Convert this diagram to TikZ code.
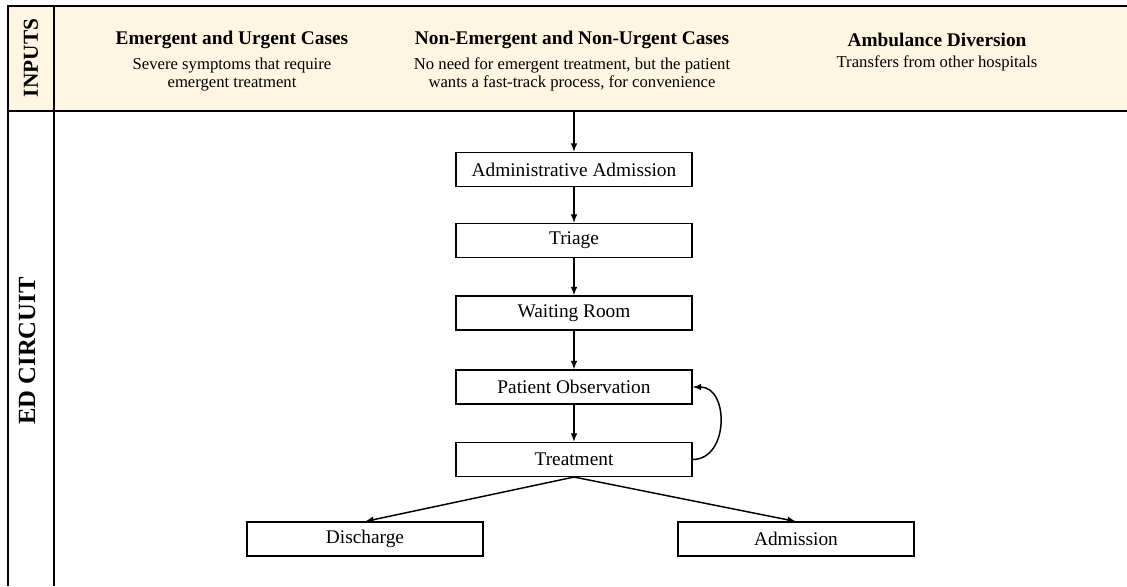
\documentclass[tikz,border=0pt]{standalone}
\usepackage{fontspec}
\setmainfont{Liberation Serif}
\usetikzlibrary{arrows.meta,positioning}
\definecolor{bandcream}{RGB}{255,246,226}
\tikzset{%
  stagebox/.style  = {shape=rectangle, draw, line width=0.8pt,%
                      minimum width=177pt, minimum height=25.5pt,%
                      font=\fontsize{14.5}{16}\selectfont},%
  casetitle/.style = {font=\fontsize{14.5}{17}\selectfont\bfseries},%
  casenote/.style  = {align=center, inner sep=0pt,%
                      font=\fontsize{12.5}{13.5}\selectfont},%
  lanelabel/.style = {rotate=90, font=\bfseries},%
  flow/.style      = {-{Latex[length=6.5pt,width=5pt]}, line width=1.1pt}%
}

\begin{document}
\begin{tikzpicture}[x=0.75pt,y=-0.75pt]
	\useasboundingbox (0,0) rectangle (1127,586);
	% inputs band and lane frame
	\fill[bandcream] (8,6) rectangle (1127,111);
	\draw[line width=1.5pt] (8,586) -- (8,6) -- (1127,6);
	\draw[line width=1.5pt] (8,111) -- (1127,111);
	\draw[line width=0.8pt] (54,6) -- (54,586);
	\node[lanelabel, font=\fontsize{16}{18}\selectfont\bfseries] (inputs) at (31,58) {INPUTS};
	\node[lanelabel, font=\fontsize{18.5}{20}\selectfont\bfseries] (edcirc) at (27,351) {ED CIRCUIT};
	% the three kinds of input
	\node[casetitle] (emerg) at (232,40) {Emergent and Urgent Cases};
	\node[casenote, below=3pt of emerg] (emergnote) {Severe symptoms that require\\emergent treatment};
	\node[casetitle] (nonemerg) at (572,40) {Non-Emergent and Non-Urgent Cases};
	\node[casenote, below=3pt of nonemerg] (nonemergnote) {No need for emergent treatment, but the patient\\wants a fast-track process, for convenience};
	\node[casetitle] (ambul) at (937,40) {Ambulance Diversion};
	\node[casenote, below=3pt of ambul] (ambulnote) {Transfers from other hospitals};
	% ED circuit
	\coordinate (bandbot) at (574,111);
	\node[stagebox] (admin) at (574,169.5) {Administrative Admission};
	\node[stagebox] (triage) at (574,240.5) {Triage};
	\node[stagebox] (wait) at (574,313) {Waiting Room};
	\node[stagebox] (observ) at (574,387) {Patient Observation};
	\node[stagebox] (treat) at (574,459.5) {Treatment};
	\node[stagebox] (disch) at (365,539) {Discharge};
	\node[stagebox] (admis) at (796,539) {Admission};
	\draw[flow] (bandbot) -- (admin.north);
	\draw[flow] (admin) -- (triage);
	\draw[flow] (triage) -- (wait);
	\draw[flow] (wait) -- (observ);
	\draw[flow] (observ) -- (treat);
	\draw[flow] (treat.east) to[out=0,in=0,looseness=1.3] (observ.east);
	\draw[flow] (treat.south) -- (disch.north);
	\draw[flow] (treat.south) -- (admis.north);
\end{tikzpicture}
\end{document}
